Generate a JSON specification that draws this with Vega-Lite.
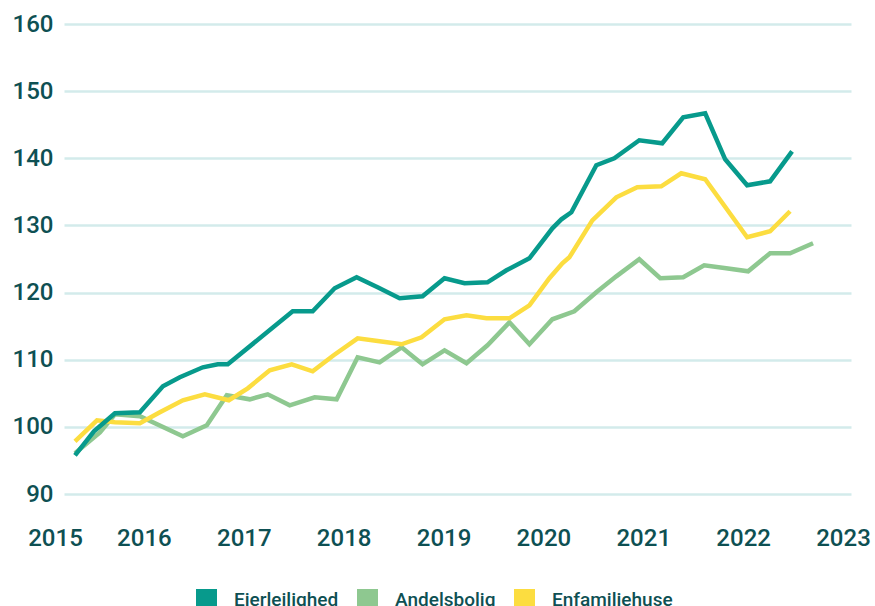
{
  "$schema": "https://vega.github.io/schema/vega-lite/v6.json",
  "width": 787,
  "height": 470,
  "autosize": "none",
  "padding": {"left": 64, "top": 24, "right": 24, "bottom": 112},
  "background": "white",
  "config": {
    "view": {"stroke": null},
    "font": "Roboto"
  },
  "data": {
    "values": [
      {"series": "Andelsbolig", "year": 2015.31, "value": 96.06},
      {"series": "Andelsbolig", "year": 2015.56, "value": 99.19},
      {"series": "Andelsbolig", "year": 2015.71, "value": 101.87},
      {"series": "Andelsbolig", "year": 2015.96, "value": 101.57},
      {"series": "Andelsbolig", "year": 2016.39, "value": 98.59},
      {"series": "Andelsbolig", "year": 2016.63, "value": 100.23},
      {"series": "Andelsbolig", "year": 2016.83, "value": 104.7},
      {"series": "Andelsbolig", "year": 2017.06, "value": 104.1},
      {"series": "Andelsbolig", "year": 2017.24, "value": 104.85},
      {"series": "Andelsbolig", "year": 2017.46, "value": 103.21},
      {"series": "Andelsbolig", "year": 2017.71, "value": 104.4},
      {"series": "Andelsbolig", "year": 2017.93, "value": 104.1},
      {"series": "Andelsbolig", "year": 2018.14, "value": 110.36},
      {"series": "Andelsbolig", "year": 2018.36, "value": 109.61},
      {"series": "Andelsbolig", "year": 2018.58, "value": 111.85},
      {"series": "Andelsbolig", "year": 2018.79, "value": 109.32},
      {"series": "Andelsbolig", "year": 2019.01, "value": 111.4},
      {"series": "Andelsbolig", "year": 2019.23, "value": 109.47},
      {"series": "Andelsbolig", "year": 2019.44, "value": 112.15},
      {"series": "Andelsbolig", "year": 2019.66, "value": 115.57},
      {"series": "Andelsbolig", "year": 2019.86, "value": 112.3},
      {"series": "Andelsbolig", "year": 2020.09, "value": 116.02},
      {"series": "Andelsbolig", "year": 2020.31, "value": 117.21},
      {"series": "Andelsbolig", "year": 2020.53, "value": 120.04},
      {"series": "Andelsbolig", "year": 2020.73, "value": 122.42},
      {"series": "Andelsbolig", "year": 2020.96, "value": 124.96},
      {"series": "Andelsbolig", "year": 2021.17, "value": 122.13},
      {"series": "Andelsbolig", "year": 2021.4, "value": 122.28},
      {"series": "Andelsbolig", "year": 2021.61, "value": 124.07},
      {"series": "Andelsbolig", "year": 2021.83, "value": 123.62},
      {"series": "Andelsbolig", "year": 2022.05, "value": 123.17},
      {"series": "Andelsbolig", "year": 2022.27, "value": 125.86},
      {"series": "Andelsbolig", "year": 2022.47, "value": 125.86},
      {"series": "Andelsbolig", "year": 2022.7, "value": 127.34},

      {"series": "Enfamiliehuse", "year": 2015.31, "value": 97.85},
      {"series": "Enfamiliehuse", "year": 2015.53, "value": 100.98},
      {"series": "Enfamiliehuse", "year": 2015.71, "value": 100.68},
      {"series": "Enfamiliehuse", "year": 2015.96, "value": 100.53},
      {"series": "Enfamiliehuse", "year": 2016.16, "value": 102.17},
      {"series": "Enfamiliehuse", "year": 2016.39, "value": 103.96},
      {"series": "Enfamiliehuse", "year": 2016.61, "value": 104.85},
      {"series": "Enfamiliehuse", "year": 2016.85, "value": 103.96},
      {"series": "Enfamiliehuse", "year": 2017.04, "value": 105.74},
      {"series": "Enfamiliehuse", "year": 2017.26, "value": 108.42},
      {"series": "Enfamiliehuse", "year": 2017.48, "value": 109.32},
      {"series": "Enfamiliehuse", "year": 2017.69, "value": 108.27},
      {"series": "Enfamiliehuse", "year": 2017.9, "value": 110.66},
      {"series": "Enfamiliehuse", "year": 2018.14, "value": 113.19},
      {"series": "Enfamiliehuse", "year": 2018.36, "value": 112.74},
      {"series": "Enfamiliehuse", "year": 2018.58, "value": 112.3},
      {"series": "Enfamiliehuse", "year": 2018.78, "value": 113.34},
      {"series": "Enfamiliehuse", "year": 2019.01, "value": 116.02},
      {"series": "Enfamiliehuse", "year": 2019.23, "value": 116.62},
      {"series": "Enfamiliehuse", "year": 2019.43, "value": 116.17},
      {"series": "Enfamiliehuse", "year": 2019.66, "value": 116.17},
      {"series": "Enfamiliehuse", "year": 2019.86, "value": 118.11},
      {"series": "Enfamiliehuse", "year": 2020.06, "value": 122.13},
      {"series": "Enfamiliehuse", "year": 2020.19, "value": 124.36},
      {"series": "Enfamiliehuse", "year": 2020.26, "value": 125.25},
      {"series": "Enfamiliehuse", "year": 2020.49, "value": 130.76},
      {"series": "Enfamiliehuse", "year": 2020.73, "value": 134.19},
      {"series": "Enfamiliehuse", "year": 2020.94, "value": 135.68},
      {"series": "Enfamiliehuse", "year": 2021.18, "value": 135.83},
      {"series": "Enfamiliehuse", "year": 2021.38, "value": 137.77},
      {"series": "Enfamiliehuse", "year": 2021.62, "value": 136.87},
      {"series": "Enfamiliehuse", "year": 2022.04, "value": 128.24},
      {"series": "Enfamiliehuse", "year": 2022.27, "value": 129.13},
      {"series": "Enfamiliehuse", "year": 2022.47, "value": 132.11},

      {"series": "Eierleilighed", "year": 2015.31, "value": 95.76},
      {"series": "Eierleilighed", "year": 2015.5, "value": 99.34},
      {"series": "Eierleilighed", "year": 2015.71, "value": 102.02},
      {"series": "Eierleilighed", "year": 2015.96, "value": 102.17},
      {"series": "Eierleilighed", "year": 2016.19, "value": 106.04},
      {"series": "Eierleilighed", "year": 2016.36, "value": 107.38},
      {"series": "Eierleilighed", "year": 2016.59, "value": 108.87},
      {"series": "Eierleilighed", "year": 2016.74, "value": 109.32},
      {"series": "Eierleilighed", "year": 2016.84, "value": 109.32},
      {"series": "Eierleilighed", "year": 2017.49, "value": 117.21},
      {"series": "Eierleilighed", "year": 2017.69, "value": 117.21},
      {"series": "Eierleilighed", "year": 2017.91, "value": 120.64},
      {"series": "Eierleilighed", "year": 2018.13, "value": 122.28},
      {"series": "Eierleilighed", "year": 2018.34, "value": 120.79},
      {"series": "Eierleilighed", "year": 2018.56, "value": 119.15},
      {"series": "Eierleilighed", "year": 2018.79, "value": 119.45},
      {"series": "Eierleilighed", "year": 2019.01, "value": 122.13},
      {"series": "Eierleilighed", "year": 2019.21, "value": 121.38},
      {"series": "Eierleilighed", "year": 2019.44, "value": 121.53},
      {"series": "Eierleilighed", "year": 2019.63, "value": 123.32},
      {"series": "Eierleilighed", "year": 2019.86, "value": 125.11},
      {"series": "Eierleilighed", "year": 2020.09, "value": 129.57},
      {"series": "Eierleilighed", "year": 2020.18, "value": 130.91},
      {"series": "Eierleilighed", "year": 2020.28, "value": 131.96},
      {"series": "Eierleilighed", "year": 2020.53, "value": 138.96},
      {"series": "Eierleilighed", "year": 2020.71, "value": 140.0},
      {"series": "Eierleilighed", "year": 2020.96, "value": 142.69},
      {"series": "Eierleilighed", "year": 2021.19, "value": 142.24},
      {"series": "Eierleilighed", "year": 2021.4, "value": 146.11},
      {"series": "Eierleilighed", "year": 2021.62, "value": 146.71},
      {"series": "Eierleilighed", "year": 2021.82, "value": 139.85},
      {"series": "Eierleilighed", "year": 2022.04, "value": 135.98},
      {"series": "Eierleilighed", "year": 2022.27, "value": 136.57},
      {"series": "Eierleilighed", "year": 2022.49, "value": 141.04}
    ]
  },
  "mark": {"type": "line", "strokeWidth": 4.5, "strokeJoin": "miter"},
  "encoding": {
    "x": {
      "field": "year",
      "type": "quantitative",
      "scale": {"domain": [2015.2, 2023.08], "nice": false, "zero": false},
      "axis": {
        "title": null,
        "values": [2015.2, 2016, 2017, 2018, 2019, 2020, 2021, 2022, 2023],
        "labelExpr": "'' + floor(datum.value)",
        "labelOffset": {"condition": {"test": "datum.value < 2015.5", "value": -9}, "value": 0},
        "labelFlush": false,
        "grid": false,
        "domain": false,
        "ticks": false,
        "labelPadding": 32,
        "labelFontSize": 24,
        "labelFontWeight": 500,
        "labelColor": "#0e5053",
        "labelOverlap": false
      }
    },
    "y": {
      "field": "value",
      "type": "quantitative",
      "scale": {"domain": [90, 160], "nice": false, "zero": false},
      "axis": {
        "title": null,
        "values": [90, 100, 110, 120, 130, 140, 150, 160],
        "grid": true,
        "gridColor": "#d3ebeb",
        "gridWidth": 2.5,
        "domain": false,
        "ticks": false,
        "labelPadding": 11,
        "labelFontSize": 24,
        "labelFontWeight": 500,
        "labelColor": "#0e5053"
      }
    },
    "color": {
      "field": "series",
      "type": "nominal",
      "scale": {
        "domain": ["Eierleilighed", "Andelsbolig", "Enfamiliehuse"],
        "range": ["#079a8c", "#8ec890", "#fcdd40"]
      },
      "legend": {
        "title": null,
        "orient": "none",
        "direction": "horizontal",
        "legendX": 132,
        "legendY": 565,
        "padding": 0,
        "symbolType": "square",
        "symbolSize": 441,
        "symbolStrokeWidth": 0,
        "symbolOpacity": 1,
        "labelFontSize": 19,
        "labelFontWeight": 500,
        "labelColor": "#0e5053",
        "labelOffset": 17,
        "columnPadding": 18,
        "encode": {
          "symbols": {
            "update": {
              "fill": {"scale": "color", "field": "value"},
              "fillOpacity": {"value": 1},
              "strokeWidth": {"value": 0}
            }
          }
        }
      }
    }
  }
}
